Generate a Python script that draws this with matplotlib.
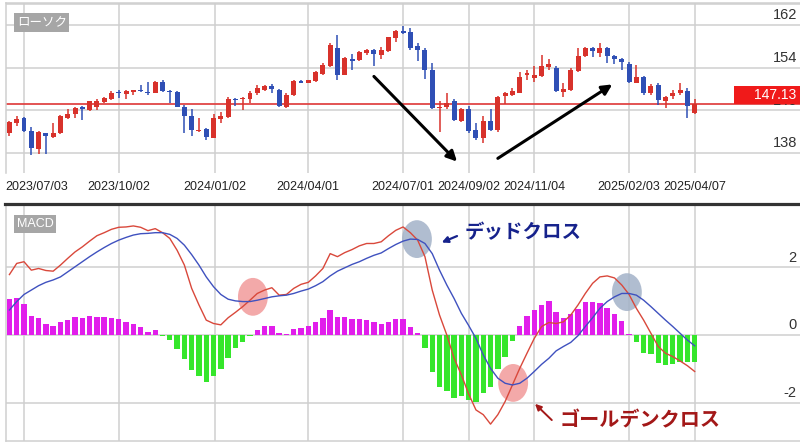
import matplotlib
matplotlib.use('Agg')
import matplotlib.pyplot as plt
import matplotlib.transforms as mtransforms
from matplotlib.patches import Ellipse, Rectangle
from matplotlib.lines import Line2D
import numpy as np
import pandas as pd

plt.rcParams['font.family'] = ['Liberation Sans', 'Noto Sans CJK JP', 'DejaVu Sans']

# ----- weekly candles (2023/06/19 .. 2025/04/07) -----
dates = pd.date_range('2023-06-19', '2025-04-07', freq='W-MON')

opens = [141.8, 143.6, 144.5, 142.1, 138.8, 141.8, 141.0, 141.7, 144.6, 145.4,
         146.6, 146.1, 146.7, 147.6, 148.1, 149.4, 149.1, 149.4, 149.8, 149.4,
         149.3, 151.4, 149.6, 149.4, 146.7, 144.9, 142.1, 142.6, 140.9, 144.4,
         144.8, 148.2, 148.1, 148.25, 149.2, 149.8, 150.6, 149.9, 146.7, 149.0,
         151.6, 151.2, 151.5, 152.9, 154.3, 157.75, 152.75, 155.7, 155.4, 156.8,
         157.3, 156.5, 157.1, 159.6, 160.9, 160.7, 158.2, 157.4, 153.7, 146.4,
         146.7, 147.75, 144.0, 146.2, 142.4, 140.9, 144.0, 142.25, 148.8, 149.0,
         149.3, 152.75, 152.1, 152.4, 154.2, 154.0, 149.5, 149.8, 153.4, 156.2,
         157.75, 156.8, 157.75, 156.2, 155.7, 154.8, 151.2, 152.3, 149.2, 150.7,
         147.75, 148.7, 149.2, 149.6, 145.6]
highs = [144.0, 144.9, 144.75, 142.9, 142.1, 141.8, 143.7, 145.1, 146.3, 146.7,
         146.9, 147.8, 148.1, 148.6, 149.6, 149.8, 149.8, 149.9, 150.7, 151.3,
         151.6, 151.8, 149.8, 149.6, 147.1, 146.3, 144.6, 142.75, 145.25, 145.7,
         148.6, 148.4, 148.6, 149.6, 150.8, 150.7, 150.9, 150.1, 149.2, 151.7,
         151.8, 151.8, 153.4, 154.9, 158.7, 160.25, 156.1, 156.6, 157.1, 157.6,
         157.6, 157.9, 159.9, 161.1, 161.9, 161.5, 158.6, 157.75, 154.9, 147.75,
         149.2, 148.1, 146.5, 146.8, 143.7, 144.9, 146.3, 148.8, 149.4, 150.25,
         153.2, 153.7, 154.3, 156.5, 155.7, 154.3, 151.1, 154.0, 157.75, 157.9,
         157.9, 158.7, 157.9, 156.5, 155.9, 155.1, 154.6, 152.4, 150.9, 151.1,
         148.8, 149.9, 151.2, 150.25, 148.1]
lows = [141.2, 143.1, 142.0, 137.6, 137.75, 137.9, 140.9, 141.5, 144.4, 144.6,
        144.3, 145.9, 146.1, 147.4, 147.9, 148.4, 148.2, 149.0, 149.4, 149.0,
        149.2, 149.4, 147.4, 146.7, 141.8, 141.2, 141.9, 140.4, 140.75, 143.6,
        144.6, 146.8, 146.1, 147.4, 149.0, 149.6, 149.2, 146.7, 146.5, 148.8,
        151.1, 151.1, 151.3, 152.75, 154.2, 151.8, 152.6, 153.6, 155.25, 156.5,
        154.4, 155.7, 157.0, 158.8, 160.4, 157.4, 155.25, 151.9, 146.3, 141.9,
        146.2, 144.1, 143.8, 141.8, 140.4, 139.8, 142.1, 142.0, 147.3, 148.7,
        149.2, 151.8, 151.3, 152.3, 153.7, 149.4, 148.6, 149.6, 153.2, 156.1,
        156.1, 156.1, 154.9, 154.8, 153.7, 151.2, 151.1, 149.0, 149.0, 147.1,
        146.5, 148.1, 149.0, 144.6, 145.25]
closes = [143.8, 144.4, 142.1, 139.0, 142.0, 141.2, 141.8, 144.9, 145.4, 146.4,
          146.2, 147.7, 147.8, 148.4, 149.3, 149.2, 149.6, 149.8, 149.6, 149.2,
          151.3, 149.6, 149.4, 146.7, 144.9, 142.4, 142.4, 141.1, 144.6, 144.9,
          148.1, 147.9, 148.3, 149.3, 150.25, 150.6, 150.1, 146.9, 149.0, 151.5,
          151.2, 151.7, 153.2, 154.6, 158.4, 152.75, 155.9, 155.25, 156.9, 157.3,
          156.7, 157.4, 159.8, 160.9, 160.6, 157.75, 157.3, 153.6, 146.4, 146.7,
          147.4, 144.3, 146.2, 142.1, 140.9, 144.0, 142.3, 148.6, 149.2, 149.6,
          152.3, 153.1, 152.75, 154.4, 154.8, 149.6, 150.1, 153.7, 156.3, 157.75,
          157.1, 157.75, 156.2, 155.7, 155.1, 151.3, 152.3, 149.2, 150.6, 147.9,
          148.6, 149.3, 149.8, 146.8, 147.13]

# ----- MACD panel -----
macd = [1.79, 2.12, 2.17, 1.92, 1.97, 1.91, 1.89, 2.07, 2.27, 2.46,
        2.61, 2.78, 2.94, 3.03, 3.13, 3.19, 3.20, 3.23, 3.19, 3.09,
        3.15, 3.03, 2.86, 2.51, 2.07, 1.38, 0.89, 0.44, 0.34, 0.30,
        0.51, 0.67, 0.84, 1.03, 1.23, 1.33, 1.40, 1.18, 1.20, 1.38,
        1.50, 1.56, 1.75, 1.97, 2.41, 2.32, 2.44, 2.53, 2.64, 2.71,
        2.71, 2.76, 2.94, 3.10, 3.20, 3.03, 2.81, 2.32, 1.33, 0.59,
        0.00, -0.69, -1.18, -1.75, -2.22, -2.36, -2.64, -2.36, -1.97, -1.48,
        -0.99, -0.54, -0.10, 0.25, 0.37, 0.34, 0.39, 0.59, 0.89, 1.23,
        1.53, 1.72, 1.75, 1.69, 1.48, 1.20, 0.79, 0.44, 0.05, -0.34,
        -0.54, -0.64, -0.77, -0.91, -1.08]
signal = [0.74, 0.99, 1.20, 1.33, 1.46, 1.56, 1.63, 1.72, 1.87, 2.02,
          2.17, 2.32, 2.46, 2.59, 2.71, 2.81, 2.89, 2.96, 3.00, 3.01,
          3.03, 3.03, 2.98, 2.86, 2.66, 2.38, 2.07, 1.72, 1.43, 1.20,
          1.06, 1.01, 0.99, 0.99, 1.03, 1.08, 1.13, 1.16, 1.18, 1.23,
          1.30, 1.36, 1.46, 1.58, 1.75, 1.89, 1.99, 2.09, 2.17, 2.27,
          2.36, 2.43, 2.56, 2.68, 2.78, 2.84, 2.83, 2.71, 2.41, 1.92,
          1.48, 1.08, 0.64, 0.28, -0.10, -0.59, -0.99, -1.28, -1.43, -1.48,
          -1.43, -1.28, -1.08, -0.87, -0.69, -0.47, -0.34, -0.22, -0.02, 0.25,
          0.51, 0.79, 0.99, 1.13, 1.23, 1.23, 1.18, 1.03, 0.84, 0.64,
          0.44, 0.25, 0.05, -0.15, -0.32]
hist = [1.06, 1.11, 0.93, 0.57, 0.51, 0.33, 0.26, 0.39, 0.44, 0.54,
        0.51, 0.55, 0.54, 0.52, 0.51, 0.46, 0.37, 0.33, 0.23, 0.10,
        0.14, -0.02, -0.15, -0.41, -0.71, -1.05, -1.20, -1.38, -1.20, -1.00,
        -0.67, -0.40, -0.20, -0.02, 0.15, 0.26, 0.28, 0.07, 0.04, 0.18,
        0.22, 0.27, 0.37, 0.51, 0.75, 0.53, 0.52, 0.47, 0.46, 0.43,
        0.37, 0.32, 0.39, 0.47, 0.47, 0.23, 0.06, -0.39, -1.10, -1.53,
        -1.67, -1.87, -1.82, -1.93, -1.99, -1.72, -1.53, -1.00, -0.64, -0.18,
        0.28, 0.57, 0.74, 0.89, 1.00, 0.67, 0.51, 0.61, 0.77, 0.97,
        0.97, 0.96, 0.79, 0.61, 0.42, 0.03, -0.20, -0.54, -0.57, -0.84,
        -0.89, -0.87, -0.79, -0.79, -0.79]

tick_dates = ['2023/07/03', '2023/10/02', '2024/01/02', '2024/04/01', '2024/07/01',
              '2024/09/02', '2024/11/04', '2025/02/03', '2025/04/07']
price_ticks = [138, 146, 154, 162]
macd_ticks = [-2, 0, 2]
last_price = 147.13

o = np.array(opens); h = np.array(highs); l = np.array(lows); c = np.array(closes)
x = np.arange(len(dates))
tick_pos = [(pd.Timestamp(d) - dates[0]).days / 7 for d in tick_dates]

UP, DOWN = '#D8322B', '#2F4FB5'
GRID = '#CFCFCF'

fig = plt.figure(figsize=(8, 4.47), dpi=100)
ax1 = fig.add_axes([6 / 800, 274 / 447, 794 / 800, 170 / 447])
ax2 = fig.add_axes([6 / 800, 6 / 447, 794 / 800, 236 / 447])

for ax in (ax1, ax2):
    ax.set_xlim(-0.47, 108.45)
    ax.set_xticks(tick_pos)
    ax.set_xticklabels([])
    ax.tick_params(length=0, labelleft=False, labelbottom=False)
    ax.grid(True, color=GRID, lw=1.1)
    ax.set_axisbelow(True)
    for s in ax.spines.values():
        s.set_color(GRID)
        s.set_linewidth(1.1)
    ax.spines['right'].set_visible(False)

# candles
cols = np.where(c >= o, UP, DOWN)
ax1.vlines(x, l, h, color=cols, lw=1.1, zorder=3)
ax1.bar(x, np.maximum(np.abs(c - o), 0.25), bottom=np.minimum(o, c), width=0.68,
        color=cols, zorder=3)
ax1.set_ylim(134.25, 166.2)
ax1.set_yticks(price_ticks + [166])
ax1.spines['bottom'].set_visible(False)
ax1.axhline(last_price, color='#E04545', lw=1.3, zorder=2)

yblend1 = mtransforms.blended_transform_factory(ax1.transAxes, ax1.transData)
for t in price_ticks:
    ax1.text(0.996, t + 0.55, str(t), transform=yblend1, ha='right', va='bottom',
             fontsize=10.5, color='#333333', zorder=4)
ax1.add_patch(Rectangle((0.917, last_price), 0.083, 3.56, transform=yblend1,
                        facecolor='#F01A1A', edgecolor='none', zorder=5, clip_on=False))
ax1.text(0.995, last_price + 1.78, f'{last_price:.2f}', transform=yblend1,
         ha='right', va='center', fontsize=10, color='white', zorder=6)

xblend1 = mtransforms.blended_transform_factory(ax1.transData, ax1.transAxes)
for i, (p, d) in enumerate(zip(tick_pos, tick_dates)):
    if i == 0:
        ax1.text(-0.55, -0.083, d, transform=xblend1, ha='left', va='center',
                 fontsize=9, color='#222222')
    else:
        ax1.text(p, -0.083, d, transform=xblend1, ha='center', va='center',
                 fontsize=9, color='#222222')

ax1.text(0.0135, 0.884, 'ローソク', transform=ax1.transAxes, ha='left', va='center',
         fontsize=9, color='white', family=['Noto Sans CJK JP', 'DejaVu Sans'],
         bbox=dict(boxstyle='square,pad=0.22', fc='#A6A6A6', ec='none'))

arrow = dict(arrowstyle='-|>', color='black', lw=2.2, mutation_scale=15,
             shrinkA=0, shrinkB=0)
ax1.annotate('', xy=(61.4, 136.4), xytext=(50.0, 152.4), arrowprops=arrow, zorder=6)
ax1.annotate('', xy=(82.7, 150.9), xytext=(67.0, 137.0), arrowprops=arrow, zorder=6)

# MACD
hcols = np.where(np.array(hist) >= 0, '#E11EEB', '#35E62B')
ax2.bar(x, hist, width=0.74, color=hcols, zorder=2)
ax2.plot(x, macd, color='#D9483B', lw=1.0, zorder=4)
ax2.plot(x, signal, color='#3F51BF', lw=1.0, zorder=4)
ax2.set_ylim(-3.14, 3.85)
ax2.set_yticks(macd_ticks)
ax2.spines['top'].set_visible(False)

for (cx, cy, fc) in [(33.4, 1.13, '#F29A9A'), (55.9, 2.84, '#A3B2C8'),
                     (69.1, -1.42, '#F29A9A'), (84.7, 1.27, '#A3B2C8')]:
    ax2.add_patch(Ellipse((cx, cy), 4.1, 1.12, facecolor=fc, edgecolor='none',
                          alpha=0.85, zorder=3))

yblend2 = mtransforms.blended_transform_factory(ax2.transAxes, ax2.transData)
for t in macd_ticks:
    ax2.text(0.996, t + 0.08, str(t), transform=yblend2, ha='right', va='bottom',
             fontsize=10.5, color='#333333')

ax2.text(0.0135, 0.919, 'MACD', transform=ax2.transAxes, ha='left', va='center',
         fontsize=9, color='white',
         bbox=dict(boxstyle='square,pad=0.22', fc='#A6A6A6', ec='none'))

jp = ['Noto Sans CJK JP', 'DejaVu Sans']
ax2.annotate('', xy=(59.3, 2.74), xytext=(61.4, 2.93),
             arrowprops=dict(arrowstyle='-|>', color='#16228C', lw=1.6,
                             mutation_scale=9, shrinkA=0, shrinkB=0))
ax2.text(62.5, 3.02, 'デッドクロス', ha='left', va='center', fontsize=14,
         fontweight='bold', color='#16228C', family=jp, zorder=6)
ax2.annotate('', xy=(72.1, -2.04), xytext=(74.4, -2.52),
             arrowprops=dict(arrowstyle='-|>', color='#A31818', lw=1.4,
                             mutation_scale=9, shrinkA=0, shrinkB=0))
ax2.text(75.5, -2.52, 'ゴールデンクロス', ha='left', va='center', fontsize=14.5,
         fontweight='bold', color='#A31818', family=jp, zorder=6)

fig.add_artist(Line2D([5 / 800, 1], [243.5 / 447] * 2, transform=fig.transFigure,
                      color='#333333', lw=2.3))

fig.savefig('out.png', dpi=100)
